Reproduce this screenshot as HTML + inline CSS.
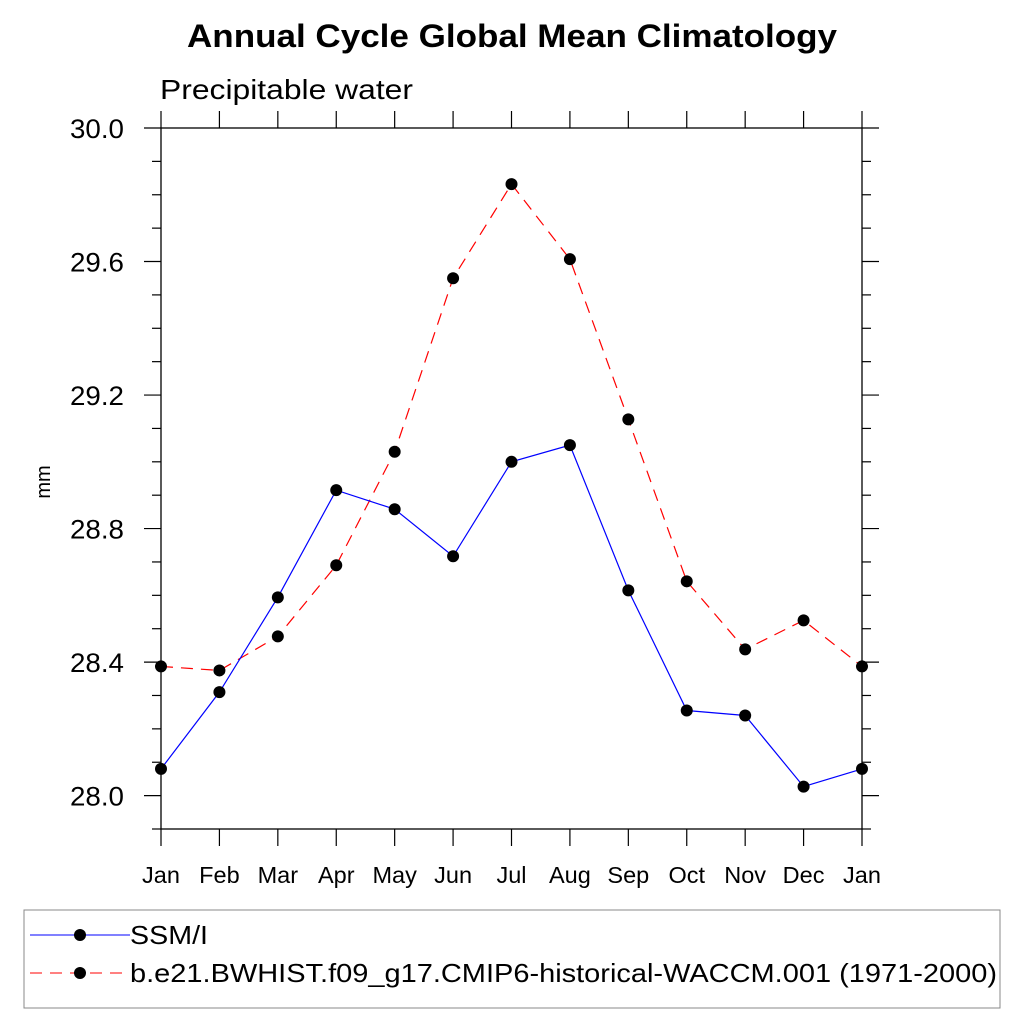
<!DOCTYPE html>
<html><head><meta charset="utf-8"><style>
html,body{margin:0;padding:0;background:#fff;}
svg{display:block;font-family:"Liberation Sans",Arial,sans-serif;}
</style></head><body>
<svg id="chart" width="1024" height="1024" viewBox="0 0 1024 1024">
<text x="512" y="47" text-anchor="middle" font-size="32" font-weight="bold" textLength="650" lengthAdjust="spacingAndGlyphs">Annual Cycle Global Mean Climatology</text>
<text x="160" y="99" font-size="28" textLength="253" lengthAdjust="spacingAndGlyphs">Precipitable water</text>
<text transform="translate(50,482) rotate(-90)" text-anchor="middle" font-size="20">mm</text>
<g id="axes"></g>
<g id="series"></g>
<rect x="24" y="910" width="976" height="98" fill="none" stroke="#888" stroke-width="1"/>
<g>
<line x1="30" y1="935" x2="130" y2="935" stroke="#0000ff" stroke-width="1"/>
<circle cx="80" cy="935" r="6" fill="#000"/>
<text x="130" y="944" font-size="26" textLength="78" lengthAdjust="spacingAndGlyphs">SSM/I</text>
</g>
<g>
<line x1="30" y1="973" x2="130" y2="973" stroke="#ff0000" stroke-width="1" stroke-dasharray="12,8"/>
<circle cx="80" cy="973" r="6" fill="#000"/>
<text x="130" y="982" font-size="26" textLength="867" lengthAdjust="spacingAndGlyphs">b.e21.BWHIST.f09_g17.CMIP6-historical-WACCM.001 (1971-2000)</text>
</g>
</svg>
<script>
const months = ["Jan","Feb","Mar","Apr","May","Jun","Jul","Aug","Sep","Oct","Nov","Dec","Jan"];
const ssmi = [28.08,28.31,28.594,28.915,28.858,28.717,29.0,29.05,28.615,28.255,28.24,28.027,28.08];
const waccm = [28.387,28.375,28.477,28.69,29.03,29.55,29.832,29.607,29.127,28.642,28.438,28.525,28.387];
const yTicks = [28.0,28.4,28.8,29.2,29.6,30.0];
const yTickLabels = ["28.0","28.4","28.8","29.2","29.6","30.0"];

const NS="http://www.w3.org/2000/svg";
const L=161,R=862,T=128,B=829,yMin=27.9,yMax=30.0;
const xs=i=>L+(R-L)*i/(months.length-1);
const ys=v=>B-(B-T)*(v-yMin)/(yMax-yMin);
function mk(tag,attrs,parent){const e=document.createElementNS(NS,tag);for(const k in attrs)e.setAttribute(k,attrs[k]);parent.appendChild(e);return e;}
const axes=document.getElementById('axes');
const frame=mk('rect',{x:L,y:T,width:R-L,height:B-T,fill:'none',stroke:'#000','stroke-width':1.3},axes);


for(let k=0;k<=21;k++){const v=yMin+k*0.1;const y=ys(v);const major=(k%4)===1;
 const len=major?17:9;
 mk('line',{x1:L-len,y1:y,x2:L,y2:y,stroke:'#000','stroke-width':1.2},axes);
 mk('line',{x1:R,y1:y,x2:R+len,y2:y,stroke:'#000','stroke-width':1.2},axes);}
yTicks.forEach((v,i)=>{const t=mk('text',{x:124,y:ys(v)+10,'text-anchor':'end','font-size':27,textLength:54,lengthAdjust:'spacingAndGlyphs'},axes);t.textContent=yTickLabels[i];
 
 });
months.forEach((m,i)=>{const x=xs(i);
 mk('line',{x1:x,y1:B,x2:x,y2:B+17,stroke:'#000','stroke-width':1.2},axes);
 mk('line',{x1:x,y1:T,x2:x,y2:T-17,stroke:'#000','stroke-width':1.2},axes);
 const t=mk('text',{x:x,y:883,'text-anchor':'middle','font-size':23.5},axes);t.textContent=m;
 
 });
const g=document.getElementById('series');
function draw(vals,color,dash,name){
 const p=mk('polyline',{points:vals.map((v,i)=>xs(i)+','+ys(v)).join(' '),fill:'none',stroke:color,'stroke-width':1.2},g);
 if(dash)p.setAttribute('stroke-dasharray',dash);
 
 
 vals.forEach((v,i)=>{const c=mk('circle',{cx:xs(i),cy:ys(v),r:6,fill:'#000'},g);
  
  });
}
draw(waccm,'#ff0000','12,8','waccm');
draw(ssmi,'#0000ff',null,'ssmi');
</script>
</body></html>
